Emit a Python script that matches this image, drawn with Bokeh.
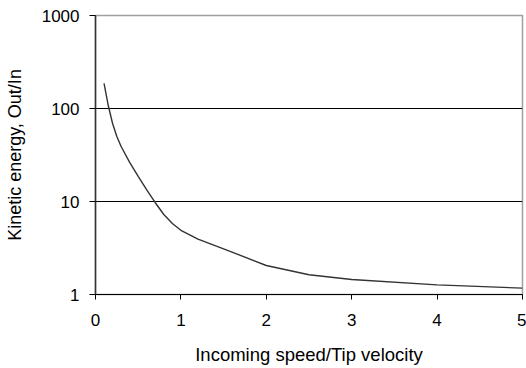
from bokeh.plotting import figure
from bokeh.models import Range1d, FixedTicker, CustomJSTickFormatter, ColumnDataSource
from bokeh.embed import file_html
from bokeh.resources import INLINE

# data
speed_ratio = [0.1, 0.15, 0.2, 0.25, 0.3, 0.4, 0.5, 0.6, 0.7, 0.8, 0.9, 1.0, 1.2, 1.5, 2.0, 2.5, 3.0, 4.0, 5.0]
energy_ratio = [186, 107, 69, 50, 39, 26.3, 18.6, 13.3, 9.7, 7.25, 5.8, 4.9, 3.94, 3.1, 2.05, 1.63, 1.45, 1.27, 1.17]
x_ticks = [0, 1, 2, 3, 4, 5]
y_ticks = [1, 10, 100, 1000]
grid_levels = [10, 100]

FONT = "Liberation Sans"

p = figure(width=526, height=368, output_backend="svg", toolbar_location=None,
           y_axis_type="log", x_range=Range1d(0, 5), y_range=Range1d(1, 1000))
p.min_border_left = 95
p.min_border_right = 4
p.min_border_top = 15
p.min_border_bottom = 74
p.background_fill_color = "white"
p.border_fill_color = "white"
p.outline_line_color = "#a0a0a0"
p.outline_line_width = 1.5

src = ColumnDataSource(dict(x=speed_ratio, y=energy_ratio))
p.line("x", "y", source=src, line_color="#333333", line_width=1.4)

# grids
p.xgrid.visible = False
p.ygrid.ticker = FixedTicker(ticks=grid_levels)
p.ygrid.grid_line_color = "black"
p.ygrid.grid_line_width = 1

# x axis
xa = p.xaxis[0]
xa.ticker = FixedTicker(ticks=x_ticks, minor_ticks=[])
xa.axis_label = "Incoming speed/Tip velocity"
xa.axis_line_color = "black"
xa.major_tick_line_color = "black"
xa.major_tick_out = 5
xa.major_tick_in = 0
xa.minor_tick_out = 0
xa.minor_tick_in = 0
xa.major_label_text_font = FONT
xa.major_label_text_font_size = "17px"
xa.major_label_text_color = "black"
xa.major_label_standoff = 14
xa.axis_label_text_font = FONT
xa.axis_label_text_font_size = "18.5px"
xa.axis_label_text_font_style = "normal"
xa.axis_label_text_color = "black"
xa.axis_label_standoff = 15

# y axis
ya = p.yaxis[0]
ya.ticker = FixedTicker(ticks=y_ticks, minor_ticks=[])
ya.formatter = CustomJSTickFormatter(code="return Math.round(tick).toString();")
ya.axis_label = "Kinetic energy, Out/In"
ya.axis_line_color = "#333333"
ya.axis_line_width = 1.5
ya.major_tick_line_color = "black"
ya.major_tick_out = 6
ya.major_tick_in = 0
ya.minor_tick_out = 0
ya.minor_tick_in = 0
ya.major_label_text_font = FONT
ya.major_label_text_font_size = "17px"
ya.major_label_text_color = "black"
ya.major_label_standoff = 10
ya.axis_label_text_font = FONT
ya.axis_label_text_font_size = "18px"
ya.axis_label_text_font_style = "normal"
ya.axis_label_text_color = "black"
ya.axis_label_standoff = 14

open("out.html", "w").write(file_html(p, INLINE))
